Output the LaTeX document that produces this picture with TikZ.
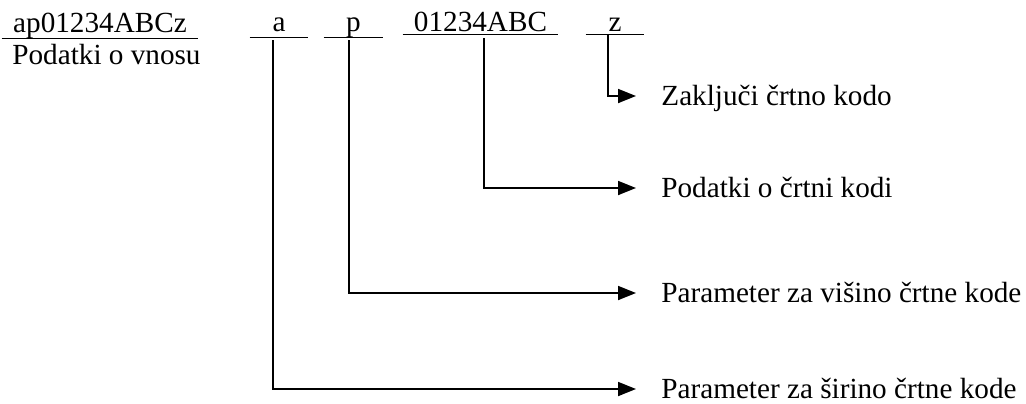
\documentclass[tikz,border=0pt]{standalone}
\usepackage{fontspec}
\setmainfont{Liberation Serif}
\usetikzlibrary{arrows.meta}

\begin{document}
\begin{tikzpicture}[x=0.5pt,y=-0.5pt,
    font=\fontsize{14.6}{17}\selectfont,
    field/.style={inner sep=0pt,text depth=3pt,anchor=base,
      append after command={(\tikzlastnode.south west) edge[line width=0.9pt] (\tikzlastnode.south east)}},
    target/.style={anchor=west,inner ysep=0pt,inner xsep=12.5pt,text height=12pt,text depth=2.5pt},
    conn/.style={line width=0.9pt,-{Triangle[length=9pt,width=7pt]}}]
  \useasboundingbox (0,0) rectangle (1026,403);
  % vnos in opis
  \node[field,minimum width=98pt] (raw) at (100,32) {ap01234ABCz};
  \node[anchor=base west,inner sep=0pt] (desc) at (12,64) {Podatki o vnosu};
  % deli vnosa
  \node[field,minimum width=29pt] (fa) at (279,31) {a};
  \node[field,minimum width=29.5pt] (fp) at (353.5,31) {p};
  \node[field,minimum width=77.5pt,text depth=1.5pt] (fd) at (480.5,31) {01234ABC};
  \node[field,minimum width=29pt,text depth=1.5pt] (fz) at (615,31) {z};
  \coordinate (ka) at (273,40);
  \coordinate (kp) at (349,40);
  \coordinate (kd) at (484,38);
  \coordinate (kz) at (608,34);
  % pomen
  \node[target] (tz) at (636,96) {Zaključi črtno kodo};
  \node[target] (td) at (636,188) {Podatki o črtni kodi};
  \node[target] (tp) at (636,293) {Parameter za višino črtne kode};
  \node[target] (ta) at (636,389) {Parameter za širino črtne kode};
  \foreach \X in {a,p,d,z}
    {\draw[conn] (k\X) |- (t\X.west);}
\end{tikzpicture}
\end{document}
